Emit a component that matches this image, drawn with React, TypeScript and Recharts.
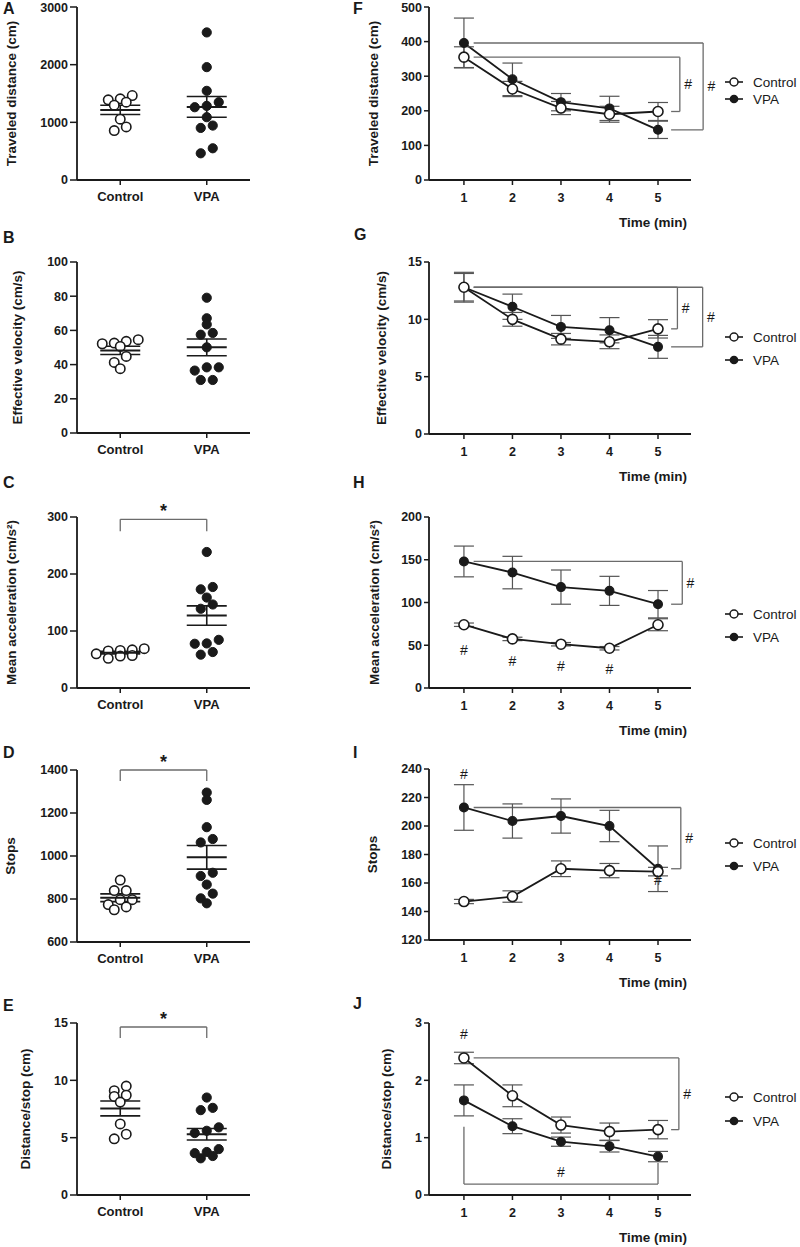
import React from "react";
import {
  ScatterChart,
  Scatter,
  LineChart,
  Line,
  XAxis,
  YAxis,
  ErrorBar,
  ReferenceLine,
  ReferenceDot,
  Legend,
} from "recharts";

const FONT = "'Liberation Sans', Arial, Helvetica, sans-serif";
const INK = "#1a1a1a";
const GREY = "#6b6b6b";

const groups = ["Control", "VPA"];
const minutes = [1, 2, 3, 4, 5];

// ---- individual animals (left column) ----
const distCtrl = [1465, 1407, 1390, 1350, 1297, 1054, 921, 857];
const distVpa = [2559, 1957, 1546, 1349, 1285, 1262, 1089, 944, 903, 550, 463];
const distMean = [1216, 1268];
const distSem = [80, 180];
const distTicks = [0, 1000, 2000, 3000];

const velCtrl = [52.6, 50.6, 53.6, 54.6, 52.2, 44.8, 41.3, 37.6];
const velVpa = [79.1, 67.1, 63.5, 57.5, 58.5, 50.1, 38.4, 36.5, 38.4, 31.0, 31.0];
const velMean = [48.3, 50.1];
const velSem = [2.4, 4.9];
const velTicks = [0, 20, 40, 60, 80, 100];

const accCtrl = [69, 67, 66, 65, 60, 57, 56, 52];
const accVpa = [238.6, 177.2, 173.1, 158.7, 146.5, 139, 84.5, 77.6, 78.2, 58.5, 63.1];
const accMean = [62, 127];
const accSem = [2.2, 17];
const accTicks = [0, 100, 200, 300];
const accSig = [296, 275];

const stopCtrl = [888, 839, 839, 797, 797, 774, 763, 750];
const stopVpa = [1295, 1261, 1134, 1079, 1063, 922, 907, 867, 825, 803, 780];
const stopMean = [806, 994];
const stopSem = [18, 55];
const stopTicks = [600, 800, 1000, 1200, 1400];
const stopSig = [1400, 1349];

const dpsCtrl = [9.5, 9.1, 8.7, 8.6, 8.1, 6.2, 5.3, 4.9];
const dpsVpa = [8.5, 7.6, 7.4, 5.9, 5.6, 5.4, 4.0, 3.75, 3.65, 3.4, 3.2];
const dpsMean = [7.55, 5.3];
const dpsSem = [0.65, 0.5];
const dpsTicks = [0, 5, 10, 15];
const dpsSig = [14.65, 13.7];

// ---- per-minute means ± SEM (right column) ----
const fCtrl = [355, 263, 208, 190, 198];
const fCtrlErr = [30, 22, 19, 23, 26];
const fVpa = [396, 291, 225, 207, 145];
const fVpaErr = [72, 47, 25, 35, 25];
const fTicks = [0, 100, 200, 300, 400, 500];

const gCtrl = [12.8, 10.0, 8.27, 8.04, 9.17];
const gCtrlErr = [1.2, 0.6, 0.5, 0.6, 0.8];
const gVpa = [12.8, 11.1, 9.34, 9.05, 7.6];
const gVpaErr = [1.3, 1.1, 1.0, 1.1, 1.0];
const gTicks = [0, 5, 10, 15];

const hCtrl = [74, 57.4, 51.2, 46.5, 74];
const hCtrlErr = [2, 2, 2, 2, 7];
const hVpa = [148, 135, 118, 113.6, 98];
const hVpaErr = [18, 19, 20, 17, 16];
const hTicks = [0, 50, 100, 150, 200];
const hHash = [[1, 44], [2, 31], [3, 26], [4, 22]];

const iCtrl = [147, 150.5, 170, 168.7, 168];
const iCtrlErr = [1.5, 4, 5.5, 5, 3];
const iVpa = [213, 203.5, 207, 200, 170];
const iVpaErr = [16, 12, 12, 11, 16];
const iTicks = [120, 140, 160, 180, 200, 220, 240];
const iHash = [[1, 236.5], [5, 162]];

const jCtrl = [2.39, 1.73, 1.22, 1.105, 1.14];
const jCtrlErr = [0.1, 0.19, 0.14, 0.15, 0.16];
const jVpa = [1.65, 1.2, 0.93, 0.85, 0.67];
const jVpaErr = [0.27, 0.13, 0.08, 0.1, 0.09];
const jTicks = [0, 1, 2, 3];
const jHash = [[1, 2.81], [3, 0.4]];
const jLowBracket = [1.19, 0.19, 0.56];

const BIN_PX = 6;
const STEP_PX = 12;

// prism-like column scatter: group close values in a row and spread them
function swarm(values: number[], center: number, pxPerY: number, pxPerX: number) {
  const sorted = [...values].sort((a, b) => b - a);
  const bins: number[][] = [];
  for (const v of sorted) {
    const last = bins[bins.length - 1];
    if (last && (last[0] - v) * pxPerY < BIN_PX) last.push(v);
    else bins.push([v]);
  }
  return bins.flatMap((bin) => {
    const asc = [...bin].sort((a, b) => a - b);
    return asc.map((v, j) => ({
      x: center + ((j - (asc.length - 1) / 2) * STEP_PX) / pxPerX,
      y: v,
    }));
  });
}

const tickStyle = { fontSize: 12.5, fontWeight: 700, fill: INK, fontFamily: FONT };
const axisLine = { stroke: INK, strokeWidth: 1.8 };
const tickLine = { stroke: INK, strokeWidth: 1.5 };

const openDot = (p: any) => (
  <circle cx={p.cx} cy={p.cy} r={4.7} fill="#fff" stroke={INK} strokeWidth={1.6} />
);
const filledDot = (p: any) => (
  <circle cx={p.cx} cy={p.cy} r={4.6} fill={INK} stroke={INK} strokeWidth={1} />
);
const meanTick = (p: any) => (
  <line x1={p.cx - 20} x2={p.cx + 20} y1={p.cy} y2={p.cy} stroke={INK} strokeWidth={2} />
);

const leftPanels = [
  { top: 7, bottom: 180, label: "Traveled distance (cm)", labelX: 11, domain: [0, 3000], ticks: distTicks, ctrl: distCtrl, vpa: distVpa, mean: distMean, sem: distSem, sig: null },
  { top: 262, bottom: 433, label: "Effective velocity (cm/s)", labelX: 17, domain: [0, 100], ticks: velTicks, ctrl: velCtrl, vpa: velVpa, mean: velMean, sem: velSem, sig: null },
  { top: 517, bottom: 688, label: "Mean acceleration (cm/s²)", labelX: 11, domain: [0, 300], ticks: accTicks, ctrl: accCtrl, vpa: accVpa, mean: accMean, sem: accSem, sig: accSig },
  { top: 770, bottom: 942, label: "Stops", labelX: 10, domain: [600, 1400], ticks: stopTicks, ctrl: stopCtrl, vpa: stopVpa, mean: stopMean, sem: stopSem, sig: stopSig },
  { top: 1023, bottom: 1195, label: "Distance/stop (cm)", labelX: 25, domain: [0, 15], ticks: dpsTicks, ctrl: dpsCtrl, vpa: dpsVpa, mean: dpsMean, sem: dpsSem, sig: dpsSig },
];

const rightPanels = [
  { top: 7, bottom: 180, label: "Traveled distance (cm)", labelX: 373, domain: [0, 500], ticks: fTicks, ctrl: fCtrl, ctrlErr: fCtrlErr, vpa: fVpa, vpaErr: fVpaErr, legendY: 82, legendGap: 17, brackets: [{ series: "ctrl", col: 5.45 }, { series: "vpa", col: 5.93 }], marks: [] as number[][], low: null },
  { top: 262, bottom: 434, label: "Effective velocity (cm/s)", labelX: 381, domain: [0, 15], ticks: gTicks, ctrl: gCtrl, ctrlErr: gCtrlErr, vpa: gVpa, vpaErr: gVpaErr, legendY: 337, legendGap: 23, brackets: [{ series: "ctrl", col: 5.4 }, { series: "vpa", col: 5.92 }], marks: [], low: null },
  { top: 517, bottom: 688, label: "Mean acceleration (cm/s²)", labelX: 374, domain: [0, 200], ticks: hTicks, ctrl: hCtrl, ctrlErr: hCtrlErr, vpa: hVpa, vpaErr: hVpaErr, legendY: 614, legendGap: 23, brackets: [{ series: "vpa", col: 5.5 }], marks: hHash, low: null },
  { top: 769, bottom: 940, label: "Stops", labelX: 372, domain: [120, 240], ticks: iTicks, ctrl: iCtrl, ctrlErr: iCtrlErr, vpa: iVpa, vpaErr: iVpaErr, legendY: 843, legendGap: 23, brackets: [{ series: "vpa", col: 5.47 }], marks: iHash, low: null },
  { top: 1023, bottom: 1195, label: "Distance/stop (cm)", labelX: 386, domain: [0, 3], ticks: jTicks, ctrl: jCtrl, ctrlErr: jCtrlErr, vpa: jVpa, vpaErr: jVpaErr, legendY: 1097, legendGap: 24, brackets: [{ series: "ctrl", col: 5.43 }], marks: jHash, low: jLowBracket },
];

const letters = [
  { t: "A", x: 3, y: 1 }, { t: "B", x: 3, y: 230 }, { t: "C", x: 3, y: 475 }, { t: "D", x: 3, y: 745 }, { t: "E", x: 3, y: 998 },
  { t: "F", x: 353, y: 1 }, { t: "G", x: 354, y: 227 }, { t: "H", x: 353, y: 475 }, { t: "I", x: 353, y: 745 }, { t: "J", x: 353, y: 996 },
];

function seg(key: string, a: [number, number], b: [number, number], extra: any = {}) {
  return (
    <ReferenceLine
      key={key}
      segment={[{ x: a[0], y: a[1] }, { x: b[0], y: b[1] }]}
      stroke={GREY}
      strokeWidth={1.3}
      ifOverflow="visible"
      {...extra}
    />
  );
}

function DotPanel({ p }: { p: any }) {
  const mt = Math.min(22, p.top);
  const plotH = p.bottom - p.top;
  const axisH = 30;
  const height = mt + plotH + axisH + 6;
  const pxPerY = plotH / (p.domain[1] - p.domain[0]);
  const pxPerX = 173 / 2;
  const ctrlPts = swarm(p.ctrl, 1, pxPerY, pxPerX);
  const vpaPts = swarm(p.vpa, 2, pxPerY, pxPerX);
  const meanPts = p.mean.map((m: number, i: number) => ({ x: i + 1, y: m, sem: p.sem[i] }));
  return (
    <div style={{ position: "absolute", left: 0, top: p.top - mt }}>
      <ScatterChart width={262} height={height} margin={{ top: mt, right: 12, bottom: 6, left: 0 }}>
        <XAxis
          type="number"
          dataKey="x"
          domain={[0.5, 2.5]}
          ticks={[1, 2]}
          tickFormatter={(v) => groups[Math.round(v) - 1]}
          height={axisH}
          axisLine={axisLine}
          tickLine={tickLine}
          tickSize={5}
          tickMargin={7}
          tick={{ ...tickStyle, fontSize: 13 }}
        />
        <YAxis
          type="number"
          dataKey="y"
          domain={p.domain}
          ticks={p.ticks}
          width={77}
          axisLine={axisLine}
          tickLine={tickLine}
          tickSize={7}
          tickMargin={2}
          tick={tickStyle}
          label={{
            value: p.label,
            angle: -90,
            position: "insideLeft",
            offset: p.labelX,
            style: { textAnchor: "middle" },
            fontSize: 13.5,
            fontWeight: 700,
            fill: INK,
            fontFamily: FONT,
          }}
        />
        {p.sig && [
          seg("s1", [1, p.sig[1]], [1, p.sig[0]]),
          seg("s2", [1, p.sig[0]], [2, p.sig[0]], {
            label: { value: "*", position: "top", offset: 2, fontSize: 18, fontWeight: 700, fill: INK, fontFamily: FONT },
          }),
          seg("s3", [2, p.sig[0]], [2, p.sig[1]]),
        ]}
        <Scatter data={ctrlPts} shape={openDot} isAnimationActive={false} />
        <Scatter data={vpaPts} shape={filledDot} isAnimationActive={false} />
        <Scatter data={meanPts} shape={meanTick} isAnimationActive={false}>
          <ErrorBar dataKey="sem" direction="y" width={20} stroke={INK} strokeWidth={1.6} />
        </Scatter>
      </ScatterChart>
    </div>
  );
}

const legendContent = (gap: number) => (props: any) => {
  const items = [...(props.payload || [])].sort(
    (a: any, b: any) => groups.indexOf(a.value) - groups.indexOf(b.value)
  );
  return (
    <div style={{ fontFamily: FONT, fontSize: 13.5, color: INK }}>
      {items.map((e: any) => (
        <div key={e.value} style={{ height: gap, display: "flex", alignItems: "center" }}>
          <svg width={18} height={12} style={{ marginRight: 10 }}>
            <line x1={0} x2={18} y1={6} y2={6} stroke={INK} strokeWidth={1.6} />
            <circle
              cx={9}
              cy={6}
              r={e.value === "VPA" ? 3.6 : 4}
              fill={e.value === "VPA" ? INK : "#fff"}
              stroke={INK}
              strokeWidth={1.5}
            />
          </svg>
          <span>{e.value}</span>
        </div>
      ))}
    </div>
  );
};

function TrendPanel({ p }: { p: any }) {
  const mt = Math.min(22, p.top);
  const plotH = p.bottom - p.top;
  const axisH = 51;
  const height = mt + plotH + axisH + 4;
  const rows = minutes.map((t, i) => ({
    t,
    ctrl: p.ctrl[i],
    ctrlErr: p.ctrlErr[i],
    vpa: p.vpa[i],
    vpaErr: p.vpaErr[i],
  }));
  const chartTop = p.top - mt;
  const bracketEls = p.brackets.flatMap((b: any, k: number) => {
    const s = b.series === "ctrl" ? p.ctrl : p.vpa;
    const y0 = s[0];
    const y1 = s[s.length - 1];
    return [
      seg(`b${k}a`, [1.2, y0], [b.col, y0]),
      seg(`b${k}b`, [b.col, y0], [b.col, y1]),
      seg(`b${k}c`, [b.col, y1], [5.27, y1]),
      <ReferenceDot
        key={`b${k}h`}
        x={b.col + 0.17}
        y={(y0 + y1) / 2}
        r={0}
        fill="none"
        stroke="none"
        ifOverflow="visible"
        label={{ value: "#", position: "center", fontSize: 14, fill: INK, fontFamily: FONT }}
      />,
    ];
  });
  const lowEls = p.low
    ? [
        seg("l1", [1, p.low[0]], [1, p.low[1]]),
        seg("l2", [1, p.low[1]], [5, p.low[1]]),
        seg("l3", [5, p.low[1]], [5, p.low[2]]),
      ]
    : [];
  const markEls = p.marks.map((m: number[], k: number) => (
    <ReferenceDot
      key={`m${k}`}
      x={m[0]}
      y={m[1]}
      r={0}
      fill="none"
      stroke="none"
      ifOverflow="visible"
      label={{ value: "#", position: "center", fontSize: 14, fill: INK, fontFamily: FONT }}
    />
  ));
  return (
    <div style={{ position: "absolute", left: 330, top: chartTop }}>
      <LineChart width={470} height={height} data={rows} margin={{ top: mt, right: 109, bottom: 4, left: 0 }}>
        <XAxis
          type="number"
          dataKey="t"
          domain={[0.28, 5.68]}
          ticks={minutes}
          allowDataOverflow
          height={axisH}
          axisLine={axisLine}
          tickLine={tickLine}
          tickSize={5}
          tickMargin={8}
          tick={tickStyle}
          label={{
            value: "Time (min)",
            position: "insideBottomRight",
            offset: 4,
            fontSize: 13.5,
            fontWeight: 700,
            fill: INK,
            fontFamily: FONT,
          }}
        />
        <YAxis
          type="number"
          domain={p.domain}
          ticks={p.ticks}
          allowDataOverflow
          width={99}
          axisLine={axisLine}
          tickLine={tickLine}
          tickSize={5}
          tickMargin={2}
          tick={tickStyle}
          label={{
            value: p.label,
            angle: -90,
            position: "insideLeft",
            offset: p.labelX - 330,
            style: { textAnchor: "middle" },
            fontSize: 13.5,
            fontWeight: 700,
            fill: INK,
            fontFamily: FONT,
          }}
        />
        {bracketEls}
        {lowEls}
        {markEls}
        <Line
          dataKey="vpa"
          name="VPA"
          stroke={INK}
          strokeWidth={1.8}
          dot={{ r: 4.4, fill: INK, stroke: INK, strokeWidth: 1.2 }}
          activeDot={false}
          isAnimationActive={false}
        >
          <ErrorBar dataKey="vpaErr" width={10} stroke="#555" strokeWidth={1.2} direction="y" />
        </Line>
        <Line
          dataKey="ctrl"
          name="Control"
          stroke={INK}
          strokeWidth={1.8}
          dot={{ r: 5, fill: "#fff", stroke: INK, strokeWidth: 1.6 }}
          activeDot={false}
          isAnimationActive={false}
        >
          <ErrorBar dataKey="ctrlErr" width={10} stroke="#555" strokeWidth={1.2} direction="y" />
        </Line>
        <Legend
          layout="horizontal"
          verticalAlign="middle"
          align="center"
          content={legendContent(p.legendGap)}
          wrapperStyle={{ left: 395, top: p.legendY - chartTop - p.legendGap / 2, width: 80, height: p.legendGap * 2 }}
        />
      </LineChart>
    </div>
  );
}

export default function App() {
  return (
    <div
      style={{
        position: "absolute",
        left: 0,
        top: 0,
        width: 800,
        height: 1247,
        background: "#fff",
        overflow: "hidden",
        fontFamily: FONT,
      }}
    >
      {leftPanels.map((p, i) => (
        <DotPanel key={`l${i}`} p={p} />
      ))}
      {rightPanels.map((p, i) => (
        <TrendPanel key={`r${i}`} p={p} />
      ))}
      {letters.map((l) => (
        <div
          key={l.t}
          style={{
            position: "absolute",
            left: l.x,
            top: l.y,
            fontSize: 16,
            fontWeight: 700,
            lineHeight: 1,
            color: INK,
          }}
        >
          {l.t}
        </div>
      ))}
    </div>
  );
}
